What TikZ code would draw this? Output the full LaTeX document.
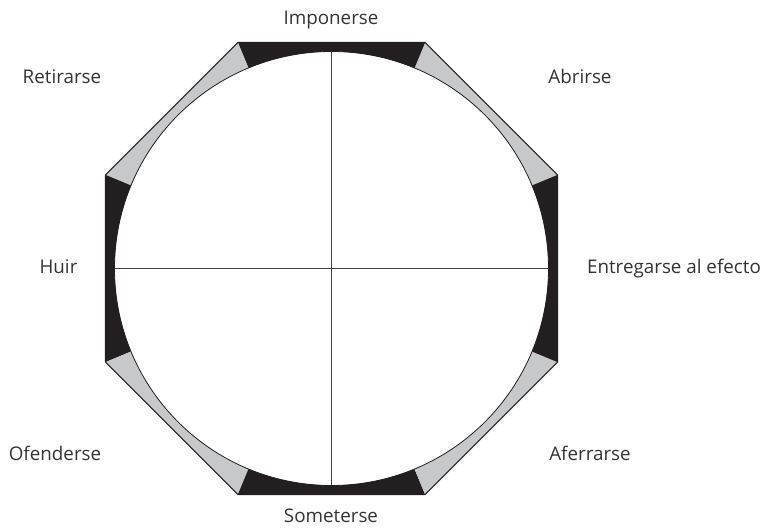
\documentclass[tikz,border=0pt]{standalone}
\usepackage{fontspec}
\setmainfont{Open Sans}
\definecolor{ink}{HTML}{231F20}
\definecolor{lgray}{HTML}{C7C8CA}
\definecolor{txt}{HTML}{333333}
\begin{document}
\begin{tikzpicture}[x=1pt,y=1pt,
  lab/.style={anchor=base, inner sep=0pt, font=\fontsize{18.8}{21}\selectfont, text=txt},
  outline/.style={draw=ink, line width=1.1pt, line join=miter},
  axisline/.style={draw=ink!85, line width=1pt}]
\useasboundingbox (0,0) rectangle (771,529);
\def\R{244.6}
\def\r{217}
\coordinate (C) at (331.5,260.5);
\begin{scope}[shift={(C)}]
  \foreach \a/\c in {22.5/lgray, 67.5/ink, 112.5/lgray, 157.5/ink, 202.5/lgray, 247.5/ink, 292.5/lgray, 337.5/ink} {
    \fill[\c] (\a:\R) -- (\a+45:\R) -- (\a+45:\r) arc[start angle=\a+45, end angle=\a, radius=\r] -- cycle;
  }
  \draw[outline] (22.5:\R) -- (67.5:\R) -- (112.5:\R) -- (157.5:\R) -- (202.5:\R) -- (247.5:\R) -- (292.5:\R) -- (337.5:\R) -- cycle;
  \draw[draw=ink, line width=0.8pt] (0,0) circle[radius=\r];
  \coordinate (W) at (180:\r);
  \coordinate (E) at (0:\r);
  \coordinate (N) at (90:\r);
  \coordinate (S) at (270:\r);
\end{scope}
\draw[axisline] (W) -- (E);
\draw[axisline] (N) -- (S);
\node[lab] (imp) at (331,504) {Imponerse};
\node[lab] (ret) at (62,445) {Retirarse};
\node[lab] (abr) at (580,445) {Abrirse};
\node[lab] (hui) at (58.5,255) {Huir};
\node[lab] (ent) at (674,255) {Entregarse al efecto};
\node[lab] (ofe) at (55,68) {Ofenderse};
\node[lab] (afe) at (590,68) {Aferrarse};
\node[lab] (som) at (331,6) {Someterse};
\end{tikzpicture}
\end{document}
